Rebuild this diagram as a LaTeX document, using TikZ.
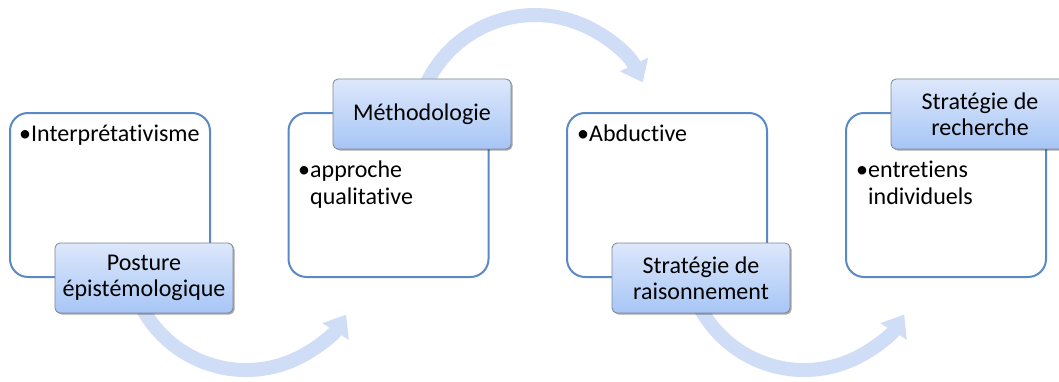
\documentclass[tikz,border=0pt]{standalone}
\usepackage{fontspec}
\setmainfont{Carlito}[Ligatures={NoCommon}]
\usetikzlibrary{arrows.meta,shadows}
\definecolor{boxline}{HTML}{5B89C4}
\definecolor{arrowc}{HTML}{CFDDF7}
\definecolor{labtop}{HTML}{DDE8FB}
\definecolor{labbot}{HTML}{A7C5F6}
\definecolor{labline}{HTML}{7D8794}
\tikzset{
 panel/.style={draw=boxline, line width=2pt, rounded corners=18pt, fill=white, minimum width=200pt, minimum height=164pt, inner sep=0pt},
 lab/.style={draw=labline, line width=0.8pt, rounded corners=5pt, top color=labtop, bottom color=labbot, minimum width=178pt, minimum height=70pt, align=center, inner sep=0pt, font=\fontsize{24}{26}\selectfont, drop shadow={shadow xshift=1.5pt, shadow yshift=-1.5pt, opacity=0.35, fill=black}},
 txt/.style={anchor=base west, inner sep=0pt, font=\fontsize{24}{27}\selectfont},
 flow/.style={draw=arrowc, line width=14pt, -{Triangle[width=30pt,length=20pt]}},
}
\begin{document}
\begin{tikzpicture}[x=1pt,y=1pt]
\path[use as bounding box] (0,0) rectangle (1059,381);
\clip (0,0) rectangle (1059,381);
% arrows
\coordinate (a1s) at (139.1,79.1);
\coordinate (a2s) at (422.2,287);
\coordinate (a3s) at (697.1,79.1);
\draw[flow] (a1s) arc[start angle=205, end angle=328, radius=118pt];
\draw[flow] (a2s) arc[start angle=160, end angle=26, radius=120pt];
\draw[flow] (a3s) arc[start angle=205, end angle=328, radius=118pt];
% panels
\node[panel] (p1) at (110,186) {};
\node[panel] (p2) at (388.5,186) {};
\node[panel] (p3) at (667,186) {};
\node[panel] (p4) at (946,186) {};
% panel texts
\node[txt] (t1) at (19,240) {•Interprétativisme};
\node[txt] (t2a) at (298,204) {•approche};
\node[txt] (t2b) at (298,177) {\hphantom{•}qualitative};
\node[txt] (t3) at (577,240) {•Abductive};
\node[txt] (t4a) at (856,204) {•entretiens};
\node[txt] (t4b) at (856,177) {\hphantom{•}individuels};
% labels
\node[lab] (l1) at (144,103) {Posture\\épistémologique};
\node[lab] (l2) at (422,267) {Méthodologie};
\node[lab] (l3) at (701,103) {Stratégie de\\raisonnement};
\node[lab] (l4) at (980,267) {Stratégie de\\recherche};
\end{tikzpicture}
\end{document}
